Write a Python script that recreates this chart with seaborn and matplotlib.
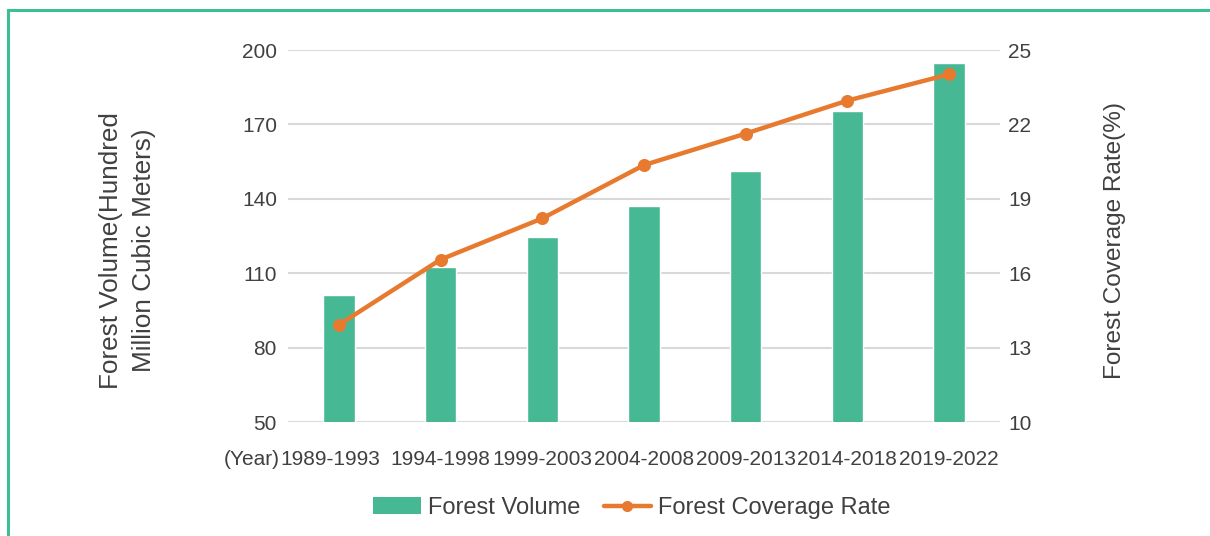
import matplotlib
matplotlib.use("Agg")
import matplotlib.pyplot as plt
import matplotlib.transforms as mtransforms
import seaborn as sns
import pandas as pd
from matplotlib.patches import Rectangle, Patch
from matplotlib.lines import Line2D

periods = ["1989-1993", "1994-1998", "1999-2003", "2004-2008", "2009-2013", "2014-2018", "2019-2022"]
forest_volume = [101.37, 112.67, 124.56, 137.21, 151.37, 175.6, 194.93]
coverage_rate = [13.92, 16.55, 18.21, 20.36, 21.63, 22.96, 24.02]
left_ticks = [50, 80, 110, 140, 170, 200]
right_ticks = [10, 13, 16, 19, 22, 25]

GREEN = "#47b894"
ORANGE = "#e87a30"
TEXT = "#404040"
GRID = "#d9d9d9"

sns.set_theme(style="white")
plt.rcParams["font.family"] = ["Liberation Sans", "DejaVu Sans"]

df = pd.DataFrame({"period": periods, "volume": forest_volume, "rate": coverage_rate})

fig = plt.figure(figsize=(12.1, 5.36), dpi=100)
ax = fig.add_axes([288/1210, 1-422/536, (1000-288)/1210, (422-50)/536])

sns.barplot(data=df, x="period", y="volume", color=GREEN, saturation=1, width=0.31, ax=ax, zorder=2)
ax.set_ylim(50, 200)
ax.set_yticks(left_ticks)
ax.set_xlim(-0.5, len(periods)-0.5)
ax.yaxis.grid(True, color=GRID, linewidth=1.5, zorder=0)
ax.set_axisbelow(True)
for s in ax.spines.values():
    s.set_visible(False)
ax.tick_params(axis="y", length=0, pad=8, labelsize=15, labelcolor=TEXT)
ax.tick_params(axis="x", length=0, pad=20, labelsize=15, labelcolor=TEXT)
ax.set_xlabel("")
ax.set_ylabel("Forest Volume(Hundred\nMillion Cubic Meters)", fontsize=18.8, color=TEXT,
              labelpad=62, linespacing=1.45)
ax.yaxis.label.set_y(0.462)

ax2 = ax.twinx()
sns.pointplot(data=df, x="period", y="rate", color=ORANGE, markers="o", linestyles="-",
              ax=ax2, markersize=7, linewidth=3.2)
ax2.set_ylim(10, 25)
ax2.set_yticks(right_ticks)
ax2.set_xlim(-0.5, len(periods)-0.5)
for s in ax2.spines.values():
    s.set_visible(False)
ax2.tick_params(axis="y", length=0, pad=6, labelsize=15, labelcolor=TEXT)
ax2.set_ylabel("Forest Coverage Rate(%)", fontsize=17.6, color=TEXT, labelpad=52)
ax2.yaxis.label.set_y(0.489)
ax2.grid(False)

# shift first tick label slightly left and prefix it with "(Year)"
first_label = ax.get_xticklabels()[0]
first_label.set_transform(first_label.get_transform() +
                          mtransforms.ScaledTranslation(-9/100, 0, fig.dpi_scale_trans))
ax.annotate("(Year)", xy=(0, 0.5), xycoords=first_label, ha="right", va="center",
            fontsize=15, color=TEXT)

handles = [Patch(facecolor=GREEN, edgecolor="none"),
           Line2D([], [], color=ORANGE, linewidth=3.2, marker="o", markersize=7)]
fig.legend(handles, ["Forest Volume", "Forest Coverage Rate"], loc="center",
           bbox_to_anchor=(632/1210, 1-508/536), ncol=2, frameon=False, fontsize=17,
           handlelength=2.0, handletextpad=0.3, columnspacing=1.0, labelcolor=TEXT)

fig.patches.append(Rectangle((8/1210, -0.1), 1.2, 1-10/536+0.1, transform=fig.transFigure,
                             fill=False, edgecolor="#3dbf94", linewidth=2.2, clip_on=False))

fig.savefig("out.png", dpi=100, facecolor="white")
